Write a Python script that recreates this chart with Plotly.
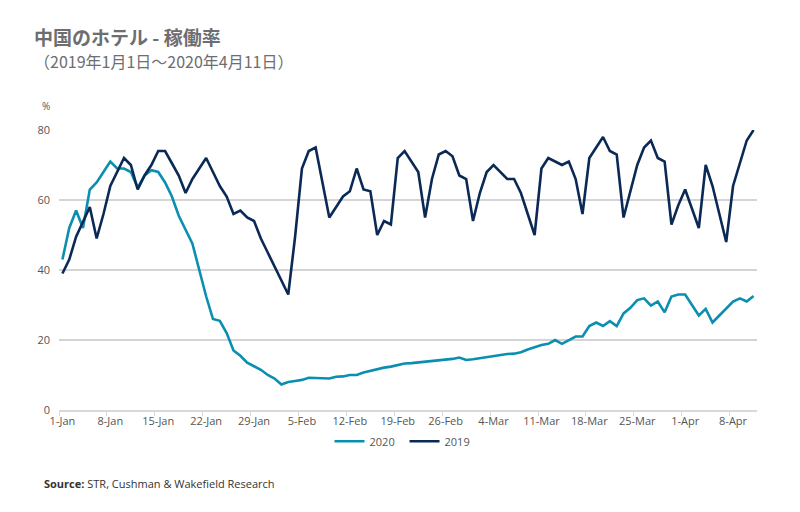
import plotly.graph_objects as go
import pandas as pd

dates = pd.date_range("2020-01-01", "2020-04-11", freq="D")

occ_2019 = [39, 43, 49.5, 54, 58, 49, 56, 64, 68, 72, 70, 63, 67, 70, 74, 74, 70.5, 67, 62, 66,
            69, 72, 68, 64, 61, 56, 57, 55, 54, 49, 45, 41, 37, 33, 49.5, 69, 74, 75, 65, 55,
            58, 61, 62.5, 69, 63, 62.5, 50, 54, 53, 72, 74, 71, 68, 55, 66, 73, 74, 72.5, 67, 66,
            54, 62, 68, 70, 68, 66, 66, 62, 56, 50, 69, 72, 71, 70, 71, 66, 56, 72, 75, 78,
            74, 73, 55, 62.5, 70, 75, 77, 72, 71, 53, 58.5, 63, 57.5, 52, 70, 64, 56, 48, 64, 70.5,
            77, 80]

occ_2020 = [43, 52, 57, 52, 63, 65, 68, 71, 69, 69, 68, 63.5, 67, 68.5, 68, 65, 61, 55.5, 51.5, 47.5,
            40, 32.5, 26, 25.5, 22, 17, 15.5, 13.5, 12.5, 11.5, 10, 9, 7.3, 8, 8.3, 8.6, 9.2, 9.2, 9, 9,
            9.5, 9.6, 10, 10, 10.7, 11.2, 11.7, 12.1, 12.4, 12.9, 13.3, 13.4, 13.6, 13.8, 14, 14.1, 14.3, 14.6, 15, 14.3,
            14.5, 14.8, 15, 15.5, 15.8, 16, 16.1, 16.5, 17.3, 17.9, 18.6, 18.9, 20, 18.9, 20, 21, 21, 24, 25, 24,
            25.4, 24, 27.6, 29.2, 31.4, 31.9, 29.8, 31, 27.9, 32.4, 33, 33, 30, 27, 28.9, 25, 27, 29, 31, 31.9,
            31, 32.6]

y_ticks = [0, 20, 40, 60, 80]

TEAL = "#0b8fb0"
NAVY = "#0a2a55"
GREY = "#6d6e71"

fig = go.Figure()
fig.add_trace(go.Scatter(x=dates, y=occ_2020, name="2020", mode="lines",
                         line=dict(color=TEAL, width=2.6), cliponaxis=False))
fig.add_trace(go.Scatter(x=dates, y=occ_2019, name="2019", mode="lines",
                         line=dict(color=NAVY, width=2.6), cliponaxis=False))

fig.update_layout(
    width=792, height=504,
    margin=dict(l=51, r=43, t=122, b=102),
    paper_bgcolor="white", plot_bgcolor="white",
    font=dict(family="Open Sans, Noto Sans CJK JP", size=11, color="#555555"),
    showlegend=True,
    legend=dict(orientation="h", x=0.495, xanchor="center", y=-0.06, yanchor="top",
                font=dict(size=11, color="#555555"), itemwidth=30, entrywidth=30,
                tracegroupgap=0, itemclick=False),
    xaxis=dict(
        range=["2019-12-31 12:00", "2020-04-11 12:00"],
        tickmode="linear", tick0="2020-01-01", dtick=7 * 86400000,
        tickformat="%-d-%b", ticks="", showgrid=False,
        showline=True, linecolor="#d9d9d9", linewidth=1.5,
        tickfont=dict(size=11, color="#555555"),
        minor=dict(tickmode="linear", tick0="2019-12-31 12:00", dtick=7 * 86400000,
                   ticks="outside", ticklen=4, tickcolor="#d9d9d9", showgrid=False),
        fixedrange=True,
    ),
    yaxis=dict(
        range=[0, 80], tickvals=y_ticks, showgrid=True, gridcolor="#d4d4d4", gridwidth=1.5,
        zeroline=False, showline=False, ticks="", ticklabelstandoff=8,
        tickfont=dict(size=11, color="#555555"), fixedrange=True,
    ),
    annotations=[
        dict(text="<b>中国のホテル - 稼働率</b>", xref="paper", yref="paper",
             x=-0.0387, y=1.334, xanchor="left", yanchor="middle", showarrow=False,
             font=dict(family="Noto Sans CJK JP", size=19, color=GREY)),
        dict(text="（2019年1月1日～2020年4月11日）", xref="paper", yref="paper",
             x=-0.0387, y=1.246, xanchor="left", yanchor="middle", showarrow=False,
             font=dict(family="Noto Sans CJK JP", size=16, color=GREY)),
        dict(text="%", xref="paper", yref="paper", x=-0.027, y=1.086,
             xanchor="left", yanchor="middle", showarrow=False,
             font=dict(size=10, color="#555555")),
        dict(text="<b>Source:</b> STR, Cushman & Wakefield Research", xref="paper", yref="paper",
             x=-0.0244, y=-0.264, xanchor="left", yanchor="middle", showarrow=False,
             font=dict(size=11, color="#333333")),
    ],
)

fig.write_html("out.html", config={"displayModeBar": False})
